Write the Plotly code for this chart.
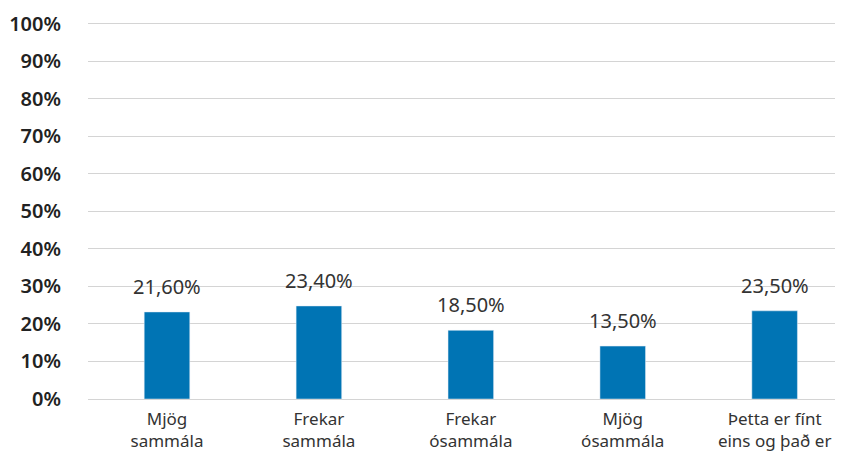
import plotly.graph_objects as go

# categories and values
categories = ["Mjög<br>sammála", "Frekar<br>sammála", "Frekar<br>ósammála",
              "Mjög<br>ósammála", "Þetta er fínt<br>eins og það er"]
bar_heights = [23.2, 24.8, 18.3, 14.1, 23.5]
bar_labels = ["21,60%", "23,40%", "18,50%", "13,50%", "23,50%"]
y_ticks = [0, 10, 20, 30, 40, 50, 60, 70, 80, 90, 100]
y_tick_text = [f"{v}%" for v in y_ticks]

fig = go.Figure()
fig.add_trace(go.Bar(x=categories, y=bar_heights, marker_color="#0074b4",
                     width=0.3, hoverinfo="skip"))

# value labels above bars
for cat, h, lab in zip(categories, bar_heights, bar_labels):
    fig.add_annotation(x=cat, y=h, text=lab, showarrow=False, yanchor="bottom",
                       yshift=10, font=dict(size=20, color="#333333"))

fig.update_xaxes(range=[-0.52, 4.45], showline=False, ticks="", automargin=False,
                 tickfont=dict(size=17, color="#333333"), ticklabelstandoff=8)
fig.update_yaxes(range=[0, 101], tickvals=y_ticks, ticktext=y_tick_text,
                 showgrid=True, gridcolor="#d4d4d4", gridwidth=1.3, automargin=False,
                 zeroline=True, zerolinecolor="#d4d4d4", zerolinewidth=1.3,
                 tickfont=dict(size=20, color="#222222", weight=600),
                 ticklabelstandoff=26)

# page body adds an 8px offset, so the figure is 8px smaller each way
fig.update_layout(width=835, height=449, plot_bgcolor="white", paper_bgcolor="white",
                  margin=dict(l=80, r=0, t=12, b=58), showlegend=False,
                  font=dict(family="Noto Sans"))

fig.write_html("out.html")
